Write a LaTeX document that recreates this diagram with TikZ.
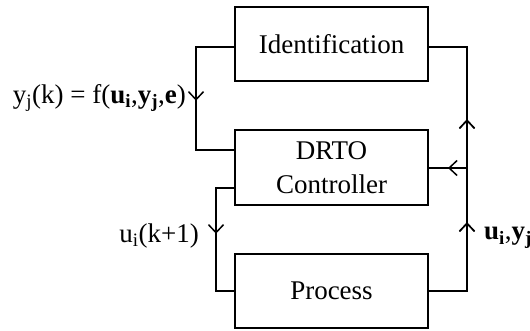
\documentclass[tikz,border=0pt]{standalone}
\usepackage{fontspec}
\setmainfont{Liberation Serif}
\usetikzlibrary{arrows.meta,decorations.markings}
\tikzset{
  blk/.style={draw, line width=1.5pt, minimum width=193pt, minimum height=74pt, inner sep=0pt, font=\fontsize{27}{34}\selectfont, align=center},
  wire/.style={line width=1.5pt},
  lbl/.style={inner sep=0pt, font=\fontsize{27}{34}\selectfont},
  chev/.style={postaction={decorate}, decoration={markings, mark=at position #1 with {\arrow{Straight Barb[length=8pt,width=15pt,line width=1.5pt]}}}}
}
\begin{document}
\begin{tikzpicture}[x=1pt,y=-1pt]
\useasboundingbox (0,0) rectangle (530,331);
\node[blk] (ident) at (331.5,44) {Identification};
\node[blk, minimum height=75pt] (drto) at (331.5,167.5) {DRTO\\Controller};
\node[blk] (proc) at (331.5,291) {Process};
\coordinate (c1) at (196,47);
\coordinate (c2) at (196,150);
\coordinate (c3) at (216,188);
\coordinate (c4) at (216,291);
\coordinate (r1) at (467,291);
\coordinate (r2) at (467,47);
\coordinate (r3) at (467,168);
% identification -> DRTO
\draw[wire, chev=92pt] (ident.west |- c1) -- (c1) -- (c2) -- (drto.west |- c2);
% DRTO -> process
\draw[wire, chev=64pt] (drto.west |- c3) -- (c3) -- (c4) -- (proc.west);
% process -> identification
\draw[wire, chev=107pt, chev=210pt] (proc.east) -- (r1) -- (r2) -- (ident.east |- r2);
% feedback to DRTO
\draw[wire, chev=19pt] (r3) -- (drto.east |- r3);
% labels
\node[lbl, anchor=east] (l1) at (186,98) {y\textsubscript{j}(k) = f(\textbf{u}\textsubscript{\textbf{i}},\textbf{y}\textsubscript{\textbf{j}},\textbf{e})};
\node[lbl, anchor=east] (l2) at (199,236) {u\textsubscript{i}(k+1)};
\node[lbl, anchor=west] (l3) at (484,238) {\textbf{u}\textsubscript{\textbf{i}},\textbf{y}\textsubscript{\textbf{j}}};
\end{tikzpicture}
\end{document}
